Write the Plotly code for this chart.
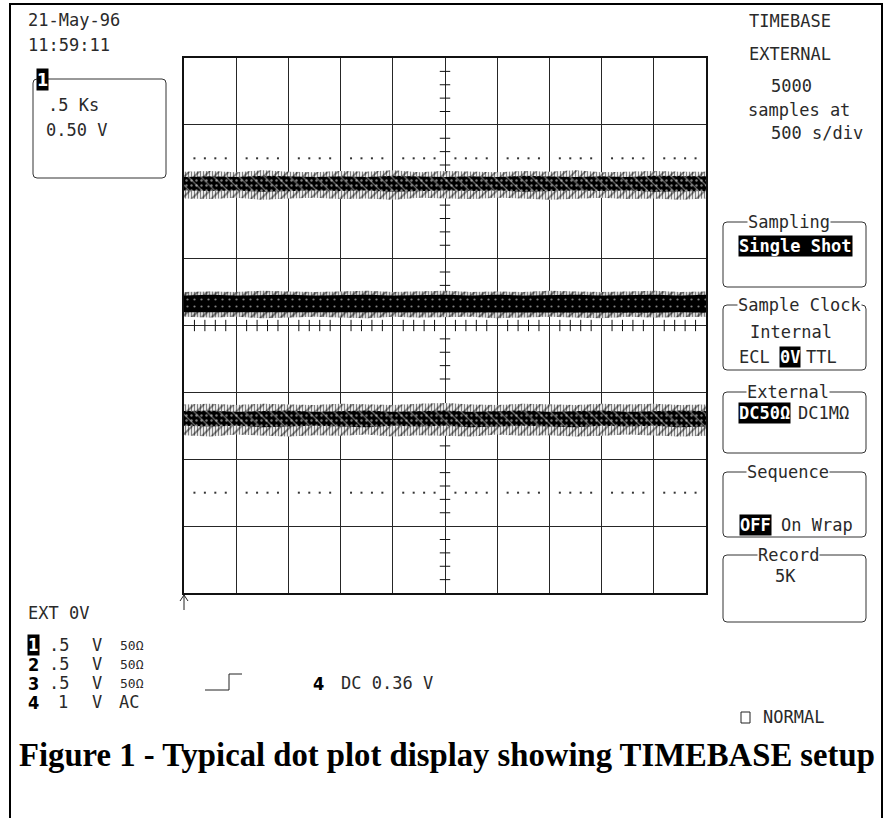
import plotly.graph_objects as go

# ---------------- data (screen divisions: x 0..10, y -4..4) ----------------
sample_pos = [0, 0.5, 1, 1.5, 2, 2.5, 3, 3.5, 4, 4.5, 5, 5.5, 6, 6.5, 7, 7.5, 8, 8.5, 9, 9.5, 10]

ch1_peak_hi = [2.30, 2.31, 2.29, 2.32, 2.30, 2.29, 2.31, 2.30, 2.32, 2.29, 2.31, 2.30, 2.29, 2.31, 2.30, 2.32, 2.29, 2.30, 2.31, 2.30, 2.30]
ch1_core_hi = [2.22, 2.23, 2.22, 2.24, 2.23, 2.22, 2.23, 2.22, 2.24, 2.23, 2.22, 2.23, 2.22, 2.24, 2.23, 2.22, 2.23, 2.22, 2.24, 2.23, 2.23]
ch1_core_lo = [2.02, 2.01, 2.02, 2.00, 2.01, 2.02, 2.01, 2.02, 2.00, 2.01, 2.02, 2.01, 2.02, 2.00, 2.01, 2.02, 2.01, 2.02, 2.00, 2.01, 2.01]
ch1_peak_lo = [1.90, 1.89, 1.91, 1.88, 1.90, 1.91, 1.89, 1.90, 1.88, 1.91, 1.90, 1.89, 1.91, 1.90, 1.88, 1.90, 1.91, 1.89, 1.90, 1.88, 1.90]

ch2_peak_hi = [0.50, 0.51, 0.50, 0.52, 0.51, 0.50, 0.51, 0.52, 0.50, 0.51, 0.52, 0.50, 0.51, 0.50, 0.52, 0.51, 0.50, 0.51, 0.52, 0.50, 0.51]
ch2_core_hi = [0.45, 0.46, 0.45, 0.46, 0.46, 0.45, 0.46, 0.46, 0.45, 0.46, 0.46, 0.45, 0.46, 0.45, 0.46, 0.46, 0.45, 0.46, 0.46, 0.45, 0.46]
ch2_core_lo = [0.20, 0.19, 0.20, 0.19, 0.19, 0.20, 0.19, 0.19, 0.20, 0.19, 0.19, 0.20, 0.19, 0.20, 0.19, 0.19, 0.20, 0.19, 0.19, 0.20, 0.19]
ch2_peak_lo = [0.13, 0.12, 0.13, 0.11, 0.12, 0.13, 0.12, 0.11, 0.13, 0.12, 0.12, 0.13, 0.11, 0.12, 0.13, 0.12, 0.11, 0.13, 0.12, 0.12, 0.13]

ch3_peak_hi = [-1.18, -1.17, -1.19, -1.17, -1.18, -1.19, -1.17, -1.18, -1.19, -1.17, -1.16, -1.18, -1.19, -1.17, -1.18, -1.19, -1.17, -1.18, -1.17, -1.19, -1.18]
ch3_core_hi = [-1.28, -1.27, -1.29, -1.28, -1.27, -1.29, -1.28, -1.27, -1.29, -1.28, -1.27, -1.29, -1.28, -1.27, -1.29, -1.28, -1.27, -1.29, -1.28, -1.27, -1.28]
ch3_core_lo = [-1.50, -1.51, -1.50, -1.52, -1.51, -1.50, -1.51, -1.52, -1.50, -1.51, -1.50, -1.52, -1.51, -1.50, -1.51, -1.52, -1.50, -1.51, -1.50, -1.52, -1.51]
ch3_peak_lo = [-1.64, -1.66, -1.63, -1.65, -1.66, -1.64, -1.65, -1.63, -1.66, -1.64, -1.65, -1.66, -1.63, -1.65, -1.64, -1.66, -1.65, -1.63, -1.64, -1.66, -1.65]

n_xdiv, n_ydiv = 10, 8
minor_step = 0.2
marker_level = 2.5   # dotted reference lines at +/- 2.5 div

# ---------------- layout helpers (page pixel -> paper) ----------------
PAGE_W, PAGE_H = 888, 818
L, R, T, B = 184, 706, 58, 593  # plot area in page pixels
def X(px): return (px - L) / (R - L)
def Y(py): return (B - py) / (B - T)

MONO = "DejaVu Sans Mono"
TXT = "#2a2a2a"

fig = go.Figure()

# centre-line minor ticks
minor = [round(i * minor_step, 3) for i in range(int(n_xdiv / minor_step) + 1)]
hx, hy = [], []
for v in minor:
    if abs(v - round(v)) > 1e-6:
        hx += [v, v, None]; hy += [-0.085, 0.085, None]
vy_minor = [round(-4 + i * minor_step, 3) for i in range(int(n_ydiv / minor_step) + 1)]
vx, vyy = [], []
for v in vy_minor:
    if abs(v - round(v)) > 1e-6:
        vx += [4.9, 5.1, None]; vyy += [v, v, None]
fig.add_trace(go.Scatter(x=hx, y=hy, mode="lines", line=dict(color="#111", width=1), hoverinfo="skip"))
fig.add_trace(go.Scatter(x=vx, y=vyy, mode="lines", line=dict(color="#111", width=1), hoverinfo="skip"))

# dotted reference lines
dx = [v for v in minor if abs(v - round(v)) > 1e-6]
for lvl in (marker_level, -marker_level):
    fig.add_trace(go.Scatter(x=dx, y=[lvl] * len(dx), mode="markers",
                             marker=dict(symbol="square", size=2, color="#333", line=dict(width=0)),
                             hoverinfo="skip"))

def band(hi, lo, pattern, size, solidity, fg="black", bg="white"):
    xs = sample_pos + sample_pos[::-1]
    ys = hi + lo[::-1]
    fig.add_trace(go.Scatter(x=xs, y=ys, mode="lines", fill="toself", line=dict(width=0),
                             fillcolor="rgba(0,0,0,0)",
                             fillpattern=dict(shape=pattern, fgcolor=fg, bgcolor=bg,
                                              size=size, solidity=solidity),
                             hoverinfo="skip"))

CLEAR = "rgba(0,0,0,0)"
# channel 1
band(ch1_peak_hi, ch1_peak_lo, "|", 3, 0.45)
band(ch1_peak_hi, ch1_peak_lo, "/", 7, 0.25, bg=CLEAR)
band(ch1_core_hi, ch1_core_lo, ".", 5, 0.18, fg="white", bg="black")
band(ch1_core_hi, ch1_core_lo, "\\", 9, 0.12, fg="white", bg=CLEAR)
# channel 2 (dense)
band(ch2_peak_hi, ch2_peak_lo, "|", 3, 0.55)
band(ch2_peak_hi, ch2_peak_lo, "/", 7, 0.3, bg=CLEAR)
band(ch2_core_hi, ch2_core_lo, ".", 7, 0.08, fg="white", bg="black")
# channel 3
band(ch3_peak_hi, ch3_peak_lo, "|", 3, 0.45)
band(ch3_peak_hi, ch3_peak_lo, "/", 7, 0.25, bg=CLEAR)
band(ch3_core_hi, ch3_core_lo, ".", 5, 0.18, fg="white", bg="black")
band(ch3_core_hi, ch3_core_lo, "\\", 9, 0.12, fg="white", bg=CLEAR)

axis_common = dict(showgrid=True, gridcolor="#262626", gridwidth=1, zeroline=False,
                   showticklabels=False, ticks="", showline=True, linecolor="#111",
                   linewidth=1.5, mirror=True, fixedrange=True)
fig.update_xaxes(range=[0, n_xdiv], dtick=1, tick0=0, **axis_common)
fig.update_yaxes(range=[-n_ydiv / 2, n_ydiv / 2], dtick=1, tick0=-4, **axis_common)

ann = []
shapes = []

def text(s, px, py, size=17, xanchor="left", color=TXT, bg=None, bold=False, family=MONO):
    d = dict(text=("<b>%s</b>" % s) if bold else s, x=X(px), y=Y(py), xref="paper", yref="paper",
             xanchor=xanchor, yanchor="middle", showarrow=False,
             font=dict(family=family, size=size, color=color), borderpad=0)
    if bg:
        d["bgcolor"] = bg
    ann.append(d)

def rrect(x0, y0, x1, y1, r=4, color="#333", width=1):
    rx, ry = r / (R - L), r / (B - T)
    a0, a1, b0, b1 = X(x0), X(x1), Y(y0), Y(y1)
    p = (f"M {a0+rx},{b0} L {a1-rx},{b0} Q {a1},{b0} {a1},{b0-ry} "
         f"L {a1},{b1+ry} Q {a1},{b1} {a1-rx},{b1} L {a0+rx},{b1} "
         f"Q {a0},{b1} {a0},{b1+ry} L {a0},{b0-ry} Q {a0},{b0} {a0+rx},{b0} Z")
    shapes.append(dict(type="path", path=p, xref="paper", yref="paper",
                       line=dict(color=color, width=width)))

def poly(pts, color="#222", width=1):
    p = "M " + " L ".join(f"{X(a)},{Y(b)}" for a, b in pts)
    shapes.append(dict(type="path", path=p, xref="paper", yref="paper",
                       line=dict(color=color, width=width)))

# outer frame (top, left, right edges)
poly([(10, 830), (10, 4), (882, 4), (882, 830)], color="black", width=2)

# top-left
text("21-May-96", 27, 20)
text("11:59:11", 27, 45)
rrect(33, 79, 166, 178)
text("1", 36, 79, size=18, color="white", bg="black", bold=True, family="DejaVu Sans Condensed")
text(".5 Ks", 47, 105)
text("0.50 V", 45, 130)

# top-right
text("TIMEBASE", 748, 21)
text("EXTERNAL", 748, 54)
text("5000", 770, 86)
text("samples at", 747, 110)
text("500 s/div", 770, 133)

# right menu boxes
rrect(723, 222, 866, 287)
text("Sampling", 789, 222, xanchor="center", bg="white")
text("Single Shot", 738, 246, color="white", bg="black", bold=True)

rrect(723, 305, 866, 370)
text("Sample Clock", 737, 305, bg="white")
text("Internal", 749, 332)
text("ECL", 738, 357)
text("0V", 779, 357, color="white", bg="black", bold=True)
text("TTL", 805, 357)

rrect(723, 392, 866, 453)
text("External", 788, 392, xanchor="center", bg="white")
text("DC50Ω", 738, 413, color="white", bg="black", bold=True)
text("DC1MΩ", 797, 413)

rrect(723, 472, 866, 537)
text("Sequence", 788, 472, xanchor="center", bg="white")
text("OFF", 739, 525, color="white", bg="black", bold=True)
text("On Wrap", 780, 525)

rrect(723, 555, 866, 622)
text("Record", 788, 555, xanchor="center", bg="white")
text("5K", 785, 576, xanchor="center")

# bottom-left: trigger-position arrow
poly([(184, 610), (184, 595)])
poly([(180, 601), (184, 595), (188, 601)])
text("EXT 0V", 27, 613)

rows = [("1", ".5", "V", "50Ω", 645), ("2", ".5", "V", "50Ω", 664),
        ("3", ".5", "V", "50Ω", 683), ("4", "1", "V", "AC", 702)]
for ch, sc, unit, cpl, yy in rows:
    if ch == "1":
        text(ch, 27, yy, size=17, color="white", bg="black", bold=True, family="DejaVu Sans Condensed")
    else:
        text(ch, 27, yy, size=18, color="black", bold=True, family="DejaVu Sans Condensed")
    text(sc, 48 if sc == ".5" else 57, yy)
    text(unit, 91, yy)
    if cpl == "AC":
        text(cpl, 118, yy)
    else:
        text(cpl, 119, yy, size=13)

# trigger step symbol
poly([(205, 690), (229, 690), (229, 674), (242, 674)])
text("4", 312, 683, size=18, color="black", bold=True, family="DejaVu Sans Condensed")
text("DC 0.36 V", 340, 683)

# NORMAL
shapes.append(dict(type="rect", xref="paper", yref="paper", x0=X(741), x1=X(750), y0=Y(712), y1=Y(723),
                   line=dict(color="#222", width=1)))
text("NORMAL", 762, 717)

# caption
text("Figure 1 - Typical dot plot display showing TIMEBASE setup", 447, 755, size=32.7,
     xanchor="center", color="black", bold=True, family="Liberation Serif")

fig.update_layout(width=PAGE_W, height=PAGE_H,
                  margin=dict(l=L, r=PAGE_W - R, t=T, b=PAGE_H - B),
                  paper_bgcolor="white", plot_bgcolor="white", showlegend=False,
                  annotations=ann, shapes=shapes)

fig.write_html("out.html", config={"displayModeBar": False},
               post_script="document.body.style.margin='0';document.body.style.overflow='hidden';")
